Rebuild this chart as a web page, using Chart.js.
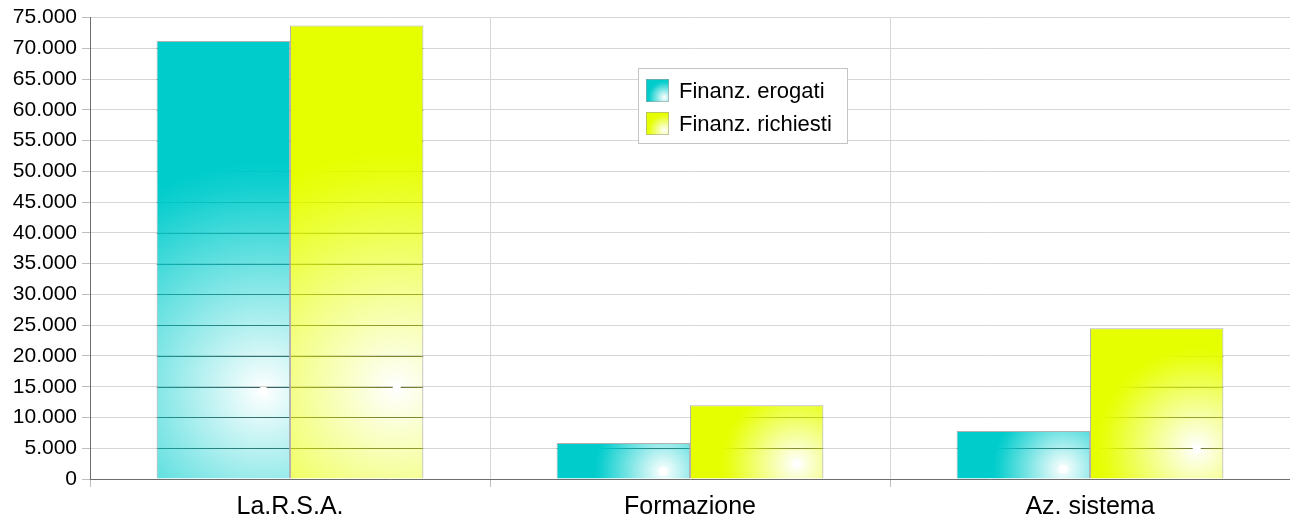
<!DOCTYPE html>
<html><head><meta charset="utf-8">
<script src="https://cdn.jsdelivr.net/npm/chart.js@4"></script>
<style>html,body{margin:0;padding:0;background:#fff;overflow:hidden}</style>
</head><body>
<canvas id="c" width="1290" height="521"></canvas>
<script>
// ---- data ----
const categories = ['La.R.S.A.', 'Formazione', 'Az. sistema'];
const seriesNames = ['Finanz. erogati', 'Finanz. richiesti'];
const erogati = [71200, 5850, 7800];
const richiesti = [73700, 12000, 24500];
const yMin = 0, yMax = 75000, yStep = 5000;

// ---- styles ----
const FONT = '"Liberation Sans", Arial, sans-serif';
const fillRGB = ['0,204,204', '230,255,0'];
const lineCols = ['rgb(60,95,95)', 'rgb(110,115,60)'];

function fmt(v) { return String(v).replace(/\B(?=(\d{3})+(?!\d))/g, '.'); }

function radial(ctx, x0, y0, w, h, rgb) {
  const cx = x0 + 0.8 * w, cy = y0 + 0.8 * h;
  const r = Math.hypot(w, h) / 2;
  const g = ctx.createRadialGradient(cx, cy, 0, cx, cy, r);
  g.addColorStop(0, 'rgba(' + rgb + ',0)');
  g.addColorStop(0.9, 'rgba(' + rgb + ',0.93)');
  g.addColorStop(1, 'rgba(' + rgb + ',1)');
  return g;
}

const barFx = {
  id: 'barFx',
  beforeDatasetsDraw(chart) {
    const ctx = chart.ctx, ys = chart.scales.y;
    chart.data.datasets.forEach((ds, i) => {
      const meta = chart.getDatasetMeta(i);
      meta.data.forEach(el => {
        const p = el.getProps(['x', 'y', 'base', 'width'], true);
        const left = p.x - p.width / 2, top = Math.min(p.y, p.base), h = Math.abs(p.base - p.y);
        ctx.save();
        ctx.beginPath(); ctx.rect(left, top, p.width, h); ctx.clip();
        ctx.strokeStyle = lineCols[i]; ctx.lineWidth = 1;
        ys.ticks.forEach(t => {
          const py = Math.round(ys.getPixelForValue(t.value)) + 0.5;
          ctx.beginPath(); ctx.moveTo(left, py); ctx.lineTo(left + p.width, py); ctx.stroke();
        });
        ctx.restore();
        el.options.backgroundColor = radial(ctx, left, top, p.width, h, fillRGB[i]);
      });
    });
  },
  afterDatasetsDraw(chart) {
    const ctx = chart.ctx;
    chart.data.datasets.forEach((ds, i) => {
      chart.getDatasetMeta(i).data.forEach(el => {
        const p = el.getProps(['x', 'y', 'base', 'width'], true);
        const left = p.x - p.width / 2, top = Math.min(p.y, p.base), h = Math.abs(p.base - p.y);
        const cx = left + 0.8 * p.width, cy = top + 0.8 * h;
        ctx.save();
        ctx.fillStyle = '#fff';
        ctx.beginPath();
        if (ctx.roundRect) ctx.roundRect(cx - 4, cy - 4, 8, 8, 2); else ctx.rect(cx - 4, cy - 4, 8, 8);
        ctx.fill();
        ctx.restore();
      });
    });
  }
};

const boxLegend = {
  id: 'boxLegend',
  afterDraw(chart) {
    const ctx = chart.ctx;
    const bx = 638.5, by = 68.5, bw = 209, bh = 75;
    ctx.save();
    ctx.fillStyle = '#fff';
    ctx.fillRect(bx, by, bw, bh);
    ctx.strokeStyle = '#c4c4c4'; ctx.lineWidth = 1;
    ctx.strokeRect(bx, by, bw, bh);
    chart.data.datasets.forEach((ds, i) => {
      const sx = 646, sy = 79 + i * 33, s = 23;
      ctx.fillStyle = '#fff';
      ctx.fillRect(sx, sy, s, s);
      ctx.fillStyle = radial(ctx, sx, sy, s, s, fillRGB[i]);
      ctx.fillRect(sx, sy, s, s);
      ctx.strokeStyle = 'rgba(160,160,160,0.6)';
      ctx.strokeRect(sx + 0.5, sy + 0.5, s - 1, s - 1);
      ctx.fillStyle = '#000';
      ctx.font = '22px ' + FONT;
      ctx.textBaseline = 'middle';
      ctx.textAlign = 'left';
      ctx.fillText(ds.label, 679, sy + s / 2 + 1);
    });
    ctx.restore();
  }
};

new Chart(document.getElementById('c'), {
  type: 'bar',
  data: {
    labels: categories,
    datasets: [
      { label: seriesNames[0], data: erogati, backgroundColor: () => 'rgb(' + fillRGB[0] + ')' },
      { label: seriesNames[1], data: richiesti, backgroundColor: () => 'rgb(' + fillRGB[1] + ')' }
    ]
  },
  options: {
    responsive: false,
    animation: false,
    devicePixelRatio: 1,
    layout: { padding: { top: 16, right: 0, left: 0, bottom: 0 } },
    datasets: {
      bar: {
        categoryPercentage: 0.667,
        barPercentage: 1.0,
        borderWidth: 1,
        borderColor: 'rgba(170,170,170,0.9)'
      }
    },
    plugins: { legend: { display: false }, tooltip: { enabled: false } },
    scales: {
      x: {
        offset: true,
        grid: { offset: true, color: '#d6d6d6', tickLength: 8, tickColor: '#bdbdbd' },
        border: { color: '#6e6e6e', z: 1 },
        ticks: { color: '#000', font: { family: FONT, size: 25 }, padding: 5 },
        afterFit(s) { s.height = 42; }
      },
      y: {
        min: yMin, max: yMax,
        grid: { color: '#d6d6d6', tickLength: 8, tickColor: '#bdbdbd' },
        border: { color: '#6e6e6e' },
        ticks: { stepSize: yStep, color: '#000', font: { family: FONT, size: 21 }, padding: 5,
                 callback: v => fmt(v) },
        afterFit(s) { s.width = 90; }
      }
    }
  },
  plugins: [barFx, boxLegend]
});
</script>
</body></html>
